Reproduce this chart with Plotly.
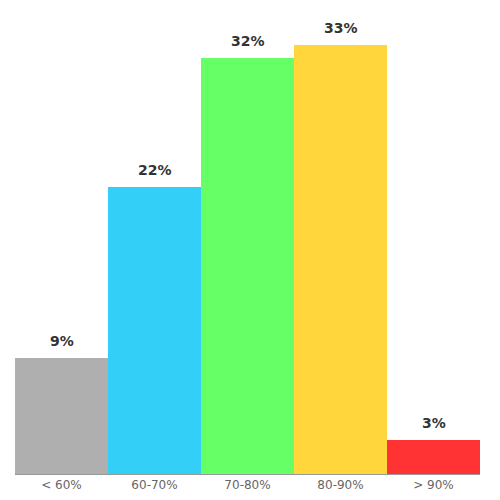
import plotly.graph_objects as go

# score buckets and share of results (percent)
categories = ["< 60%", "60-70%", "70-80%", "80-90%", "> 90%"]
shares = [8.9, 22.1, 32.0, 33.0, 2.6]
labels = ["9%", "22%", "32%", "33%", "3%"]
bar_colors = ["#afafaf", "#33cff7", "#66ff66", "#ffd63b", "#ff3333"]

fig = go.Figure(
    go.Bar(
        x=categories,
        y=shares,
        marker=dict(color=bar_colors, line=dict(width=0)),
        hoverinfo="x+y",
    )
)

# value labels above each bar
for cat, val, lab in zip(categories, shares, labels):
    fig.add_annotation(
        x=cat, y=val, text=f"<b>{lab}</b>",
        showarrow=False, yanchor="bottom", yshift=7,
        font=dict(size=14, color="#333333"),
    )

fig.update_layout(
    width=500,
    height=500,
    margin=dict(l=7, r=28, t=12, b=34, autoexpand=False),
    paper_bgcolor="white",
    plot_bgcolor="white",
    bargap=0,
    showlegend=False,
    font=dict(family="DejaVu Sans", size=12, color="#666666"),
)
fig.update_xaxes(
    showline=True, linecolor="#999999", linewidth=1, automargin=False,
    showgrid=False, ticks="", tickfont=dict(size=12, color="#666666"),
)
fig.update_yaxes(
    range=[0, 34.9], visible=False, showgrid=False, zeroline=False,
    automargin=False,
)

fig.write_html("out.html")
